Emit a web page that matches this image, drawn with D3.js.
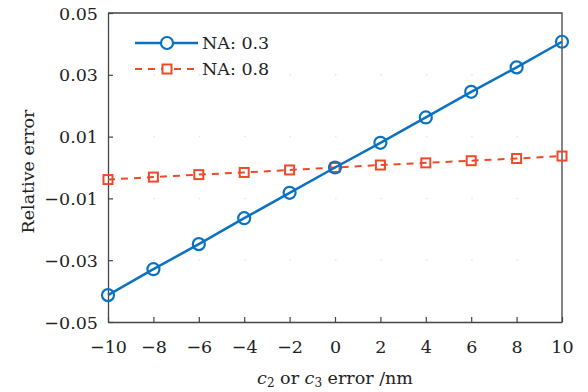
<!DOCTYPE html>
<html>
<head>
<meta charset="utf-8">
<script src="https://cdn.jsdelivr.net/npm/d3@7"></script>
<style>
  body { margin: 0; background: #fff; }
  svg text { font-family: "DejaVu Serif", serif; fill: #222; }
</style>
</head>
<body>
<svg id="chart" width="588" height="392"></svg>
<script>
// values
var xVals = [-10, -8, -6, -4, -2, 0, 2, 4, 6, 8, 10];
var na03 = [-0.0413, -0.0329, -0.0248, -0.0164, -0.0082, 0, 0.008, 0.0162, 0.0245, 0.0324, 0.0407];
var na08 = [-0.0039, -0.0031, -0.0023, -0.0016, -0.0008, 0, 0.0008, 0.0015, 0.0022, 0.0029, 0.0037];
var xTicks = [-10, -8, -6, -4, -2, 0, 2, 4, 6, 8, 10];
var yTicks = [-0.05, -0.03, -0.01, 0.01, 0.03, 0.05];
var seriesNames = ["NA: 0.3", "NA: 0.8"];

var svg = d3.select("#chart");
var mLeft = 108, mRight = 562, mTop = 13, mBottom = 322;

var x = d3.scaleLinear().domain([-10, 10]).range([mLeft, mRight]);
var y = d3.scaleLinear().domain([-0.05, 0.05]).range([mBottom, mTop]);

var axisColor = "#444";
var fs = 17.5;
var font = "'DejaVu Serif', serif";

// faint dotted grid (only dots at tick crossings show in the original)
svg.append("g").selectAll("line").data(yTicks.slice(1, -1)).join("line")
  .attr("x1", mLeft + 45.4).attr("x2", mRight)
  .attr("y1", d => y(d)).attr("y2", d => y(d))
  .attr("stroke", "#dfe6e8").attr("stroke-width", 1.5).attr("stroke-dasharray", "1.5,43.9");

// axes
var xAxis = svg.append("g").attr("transform", "translate(0," + mBottom + ")")
  .call(d3.axisBottom(x).tickValues(xTicks).tickSizeInner(-5).tickSizeOuter(0)
    .tickFormat(d => d < 0 ? "\u2212" + Math.abs(d) : d));
var yAxis = svg.append("g").attr("transform", "translate(" + mLeft + ",0)")
  .call(d3.axisLeft(y).tickValues(yTicks).tickSizeInner(-5).tickSizeOuter(0)
    .tickFormat(d => (d < 0 ? "\u2212" : "") + Math.abs(d).toFixed(2)));

[xAxis, yAxis].forEach(function (a) {
  a.attr("font-family", font);
  a.select(".domain").attr("stroke", axisColor).attr("stroke-width", 1.3);
  a.selectAll(".tick line").attr("stroke", axisColor).attr("stroke-width", 1.2);
  a.selectAll("text").attr("font-size", fs).attr("fill", "#222");
});
xAxis.selectAll("text").attr("y", 0).attr("dy", "1.75em");
yAxis.selectAll("text").attr("x", -10).attr("dy", "0.35em");

// frame top/right
svg.append("path")
  .attr("d", "M" + mLeft + "," + mTop + "H" + mRight + "V" + mBottom)
  .attr("fill", "none").attr("stroke", axisColor).attr("stroke-width", 1.3);

var blue = "#0a72c0", red = "#ee4a2a";

var line = d3.line().x((d, i) => x(xVals[i])).y(d => y(d));

svg.append("path").datum(na08).attr("d", line)
  .attr("fill", "none").attr("stroke", red).attr("stroke-width", 2)
  .attr("stroke-dasharray", "7,6");
svg.append("g").selectAll("rect").data(na08).join("rect")
  .attr("x", (d, i) => x(xVals[i]) - 4.5).attr("y", d => y(d) - 4.5)
  .attr("width", 9).attr("height", 9)
  .attr("fill", "none").attr("stroke", red).attr("stroke-width", 2);

svg.append("path").datum(na03).attr("d", line)
  .attr("fill", "none").attr("stroke", blue).attr("stroke-width", 2.5);
svg.append("g").selectAll("circle").data(na03).join("circle")
  .attr("cx", (d, i) => x(xVals[i])).attr("cy", d => y(d)).attr("r", 6)
  .attr("fill", "none").attr("stroke", blue).attr("stroke-width", 2.2);

// legend
var lg = svg.append("g").attr("font-family", font);
lg.append("line").attr("x1", 135).attr("x2", 198).attr("y1", 43).attr("y2", 43)
  .attr("stroke", blue).attr("stroke-width", 2.5);
lg.append("circle").attr("cx", 167).attr("cy", 43).attr("r", 6)
  .attr("fill", "#fff").attr("stroke", blue).attr("stroke-width", 2.2);
lg.append("line").attr("x1", 135).attr("x2", 195).attr("y1", 69).attr("y2", 69)
  .attr("stroke", red).attr("stroke-width", 2).attr("stroke-dasharray", "7,6");
lg.append("rect").attr("x", 162.5).attr("y", 64.5).attr("width", 9).attr("height", 9)
  .attr("fill", "#fff").attr("stroke", red).attr("stroke-width", 2);
lg.selectAll("text").data(seriesNames).join("text")
  .attr("x", 202).attr("y", (d, i) => 43 + i * 26).attr("dy", "0.35em")
  .attr("font-size", fs).text(d => d);

// axis titles
svg.append("text")
  .attr("transform", "translate(34," + ((mTop + mBottom) / 2 + 4) + ") rotate(-90)")
  .attr("text-anchor", "middle").attr("font-size", fs).text("Relative error");

var xt = svg.append("text").attr("x", (mLeft + mRight) / 2).attr("y", 384)
  .attr("text-anchor", "middle").attr("font-size", fs);
xt.append("tspan").attr("font-style", "italic").text("c");
xt.append("tspan").attr("font-size", 12).attr("dy", 3).text("2");
xt.append("tspan").attr("dy", -3).text(" or ");
xt.append("tspan").attr("font-style", "italic").text("c");
xt.append("tspan").attr("font-size", 12).attr("dy", 3).text("3");
xt.append("tspan").attr("dy", -3).text(" error /nm");
</script>
</body>
</html>
